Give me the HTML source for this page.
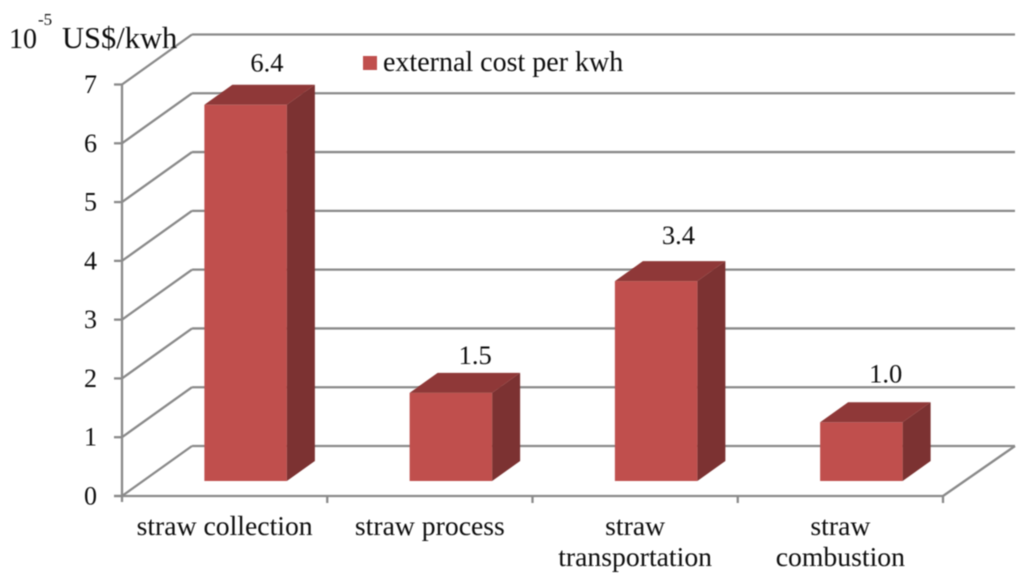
<!DOCTYPE html>
<html>
<head>
<meta charset="utf-8">
<style>
html,body{margin:0;padding:0;background:#fff;width:1024px;height:578px;overflow:hidden}
svg{display:block}
text{font-family:"Liberation Serif",serif;fill:#111;font-size:27.7px}
</style>
</head>
<body>
<svg id="chart" width="1024" height="578" viewBox="0 0 1024 578" xmlns="http://www.w3.org/2000/svg">
<defs><filter id="soft" x="-5%" y="-5%" width="110%" height="110%"><feGaussianBlur stdDeviation="0.4"/></filter></defs>
<rect width="1024" height="578" fill="#fff"/>
<g id="grid" filter="url(#soft)"></g>
<g id="bars" filter="url(#soft)"></g>
<g id="labels" filter="url(#soft)"></g>
<g filter="url(#soft)">
<text x="9" y="48" style="font-size:28px">10</text>
<text x="38" y="25" style="font-size:17px">-5</text>
<text x="62" y="48" style="font-size:30.5px">US$/kwh</text>
<rect x="363" y="56" width="14" height="14" fill="#c0504d"/>
<text x="383" y="71" style="font-size:28px">external cost per kwh</text>
</g>
</svg>
<script>
const categories = [["straw collection"], ["straw process"], ["straw", "transportation"], ["straw", "combustion"]];
const costValues = [6.4, 1.5, 3.4, 1.0];
const valueLabels = ["6.4", "1.5", "3.4", "1.0"];
const yTicks = [0, 1, 2, 3, 4, 5, 6, 7];

const NS = "http://www.w3.org/2000/svg";
const plot = {x0: 122, x1: 943, y0: 496, y7: 84.5, backDx: 70, backDy: -50};
const barW = 82.5, barDx = 28, barDy = -20, barOffsetX = 21, barBaseY = 481;
const labelGapY = [33.5, 29, 37, 39.5];
const labelBackX = [20, 17, 19, 17];
const unit = (plot.y0 - plot.y7) / 7;
const yAxis = v => plot.y0 - v * unit;
const xBand = i => plot.x0 + (i + 0.5) * (plot.x1 - plot.x0) / categories.length;
const barY = v => barBaseY - v * unit;
const grid = document.getElementById("grid");
const bars = document.getElementById("bars");
const labels = document.getElementById("labels");
const gridColor = "#8a8a8a";

function line(x1, y1, x2, y2) {
  const el = document.createElementNS(NS, "line");
  el.setAttribute("x1", x1);
  el.setAttribute("y1", y1);
  el.setAttribute("x2", x2);
  el.setAttribute("y2", y2);
  el.setAttribute("stroke", gridColor);
  el.setAttribute("stroke-width", "2.3");
  grid.appendChild(el);
  return el;
}
function poly(points, fill) {
  const el = document.createElementNS(NS, "polygon");
  el.setAttribute("points", points.map(p => p.join(",")).join(" "));
  el.setAttribute("fill", fill);
  bars.appendChild(el);
  return el;
}
function label(str, x, y, anchor) {
  const el = document.createElementNS(NS, "text");
  el.setAttribute("x", x);
  el.setAttribute("y", y);
  el.setAttribute("text-anchor", anchor);
  el.textContent = str;
  labels.appendChild(el);
  return el;
}

yTicks.forEach(t => {
  const y = yAxis(t);
  const wall = line(plot.x0, y, plot.x0 + plot.backDx, y + plot.backDy);
  
  
  const back = line(plot.x0 + plot.backDx, y + plot.backDy, plot.x1 + plot.backDx + 2, y + plot.backDy);
  
  
  const tick = line(plot.x0 - 8, y, plot.x0, y);
  
  
  const tl = label(String(t), 97, y + 8.5, "end");
  
  
  tl.setAttribute("style", "font-size:26px");
});
const yLine = line(plot.x0, yAxis(7), plot.x0, plot.y0 + 6);


const xLine = line(plot.x0 - 8, plot.y0, plot.x1, plot.y0);


const floorEdge = line(plot.x1, plot.y0, plot.x1 + plot.backDx + 2, plot.y0 + plot.backDy);



categories.forEach((c, i) => {
  const xt = plot.x0 + (i + 1) * (plot.x1 - plot.x0) / categories.length;
  const tk = line(xt, plot.y0, xt, plot.y0 + 7);
  
  

  const left = xBand(i) + barOffsetX - barW / 2;
  const right = left + barW;
  const top = barY(costValues[i]);
  const front = poly([[left, top], [right, top], [right, barBaseY], [left, barBaseY]], "#c0504d");
  
  
  const side = poly([[right, top], [right + barDx, top + barDy], [right + barDx, barBaseY + barDy], [right, barBaseY]], "#7c3130");
  
  
  const cap = poly([[left, top], [left + barDx, top + barDy], [right + barDx, top + barDy], [right, top]], "#8f3937");
  
  

  const vl = label(valueLabels[i], right - labelBackX[i], top - labelGapY[i], "middle");
  
  
  vl.setAttribute("style", "font-size:26.5px");

  const cx = xBand(i);
  c.forEach((s, j) => {
    const cl = label(s, cx, 535 + j * 31, "middle");
    
    
  });
});
</script>
</body>
</html>
